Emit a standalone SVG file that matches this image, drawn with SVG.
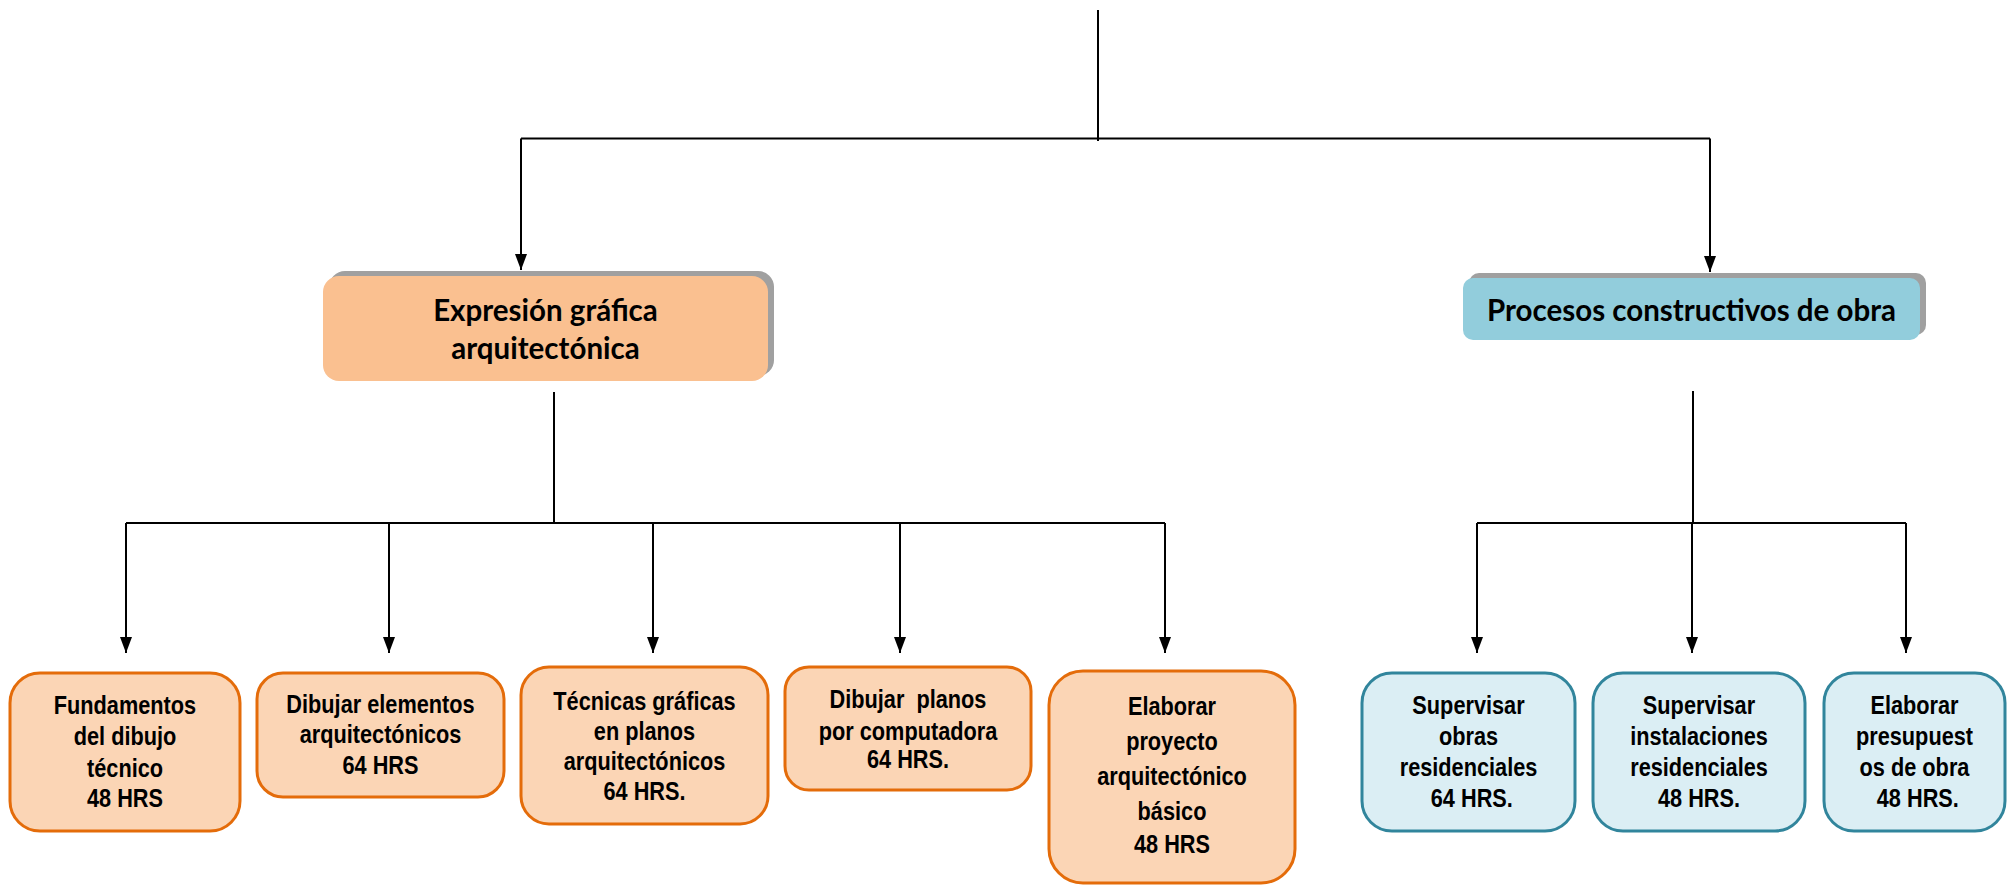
<svg xmlns="http://www.w3.org/2000/svg" width="2011" height="885" viewBox="0 0 2011 885">
<style>
.conn{stroke:#000;stroke-width:2;fill:none}
.arr{stroke:#000;stroke-width:2;fill:none;marker-end:url(#ah)}
.shadow{fill:#A0A0A0}
.t1{fill:#FAC090}
.t2{fill:#92CDDC}
.o{fill:#FBD5B5;stroke:#E46C0A;stroke-width:3}
.b{fill:#DBEEF4;stroke:#31859C;stroke-width:3}
.title{font-family:Lato,"Open Sans",sans-serif;font-weight:700;font-size:29.5px;fill:#000;text-anchor:middle}
.lbl{font-family:"Liberation Sans",Arial,sans-serif;font-weight:700;font-size:26.5px;fill:#000;text-anchor:middle}
</style>
<defs>
<marker id="ah" markerUnits="userSpaceOnUse" markerWidth="16" markerHeight="12" refX="16" refY="6" orient="auto">
<path d="M0,0 L16,6 L0,12 z" fill="#000"/>
</marker>
</defs>
<rect width="2011" height="885" fill="#fff"/>
<g id="connectors">
<path class="conn" d="M1098 10 V141"/>
<path class="conn" d="M521 138.5 H1710"/>
<path class="arr" d="M521 138.5 V270"/>
<path class="arr" d="M1710 138.5 V272"/>
<path class="conn" d="M554 392 V523"/>
<path class="conn" d="M126 523 H1165"/>
<path class="arr" d="M126 523 V653"/>
<path class="arr" d="M389 523 V653"/>
<path class="arr" d="M653 523 V653"/>
<path class="arr" d="M900 523 V653"/>
<path class="arr" d="M1165 523 V653"/>
<path class="conn" d="M1693 391 V523"/>
<path class="conn" d="M1477 523 H1906"/>
<path class="arr" d="M1477 523 V653"/>
<path class="arr" d="M1692 523 V653"/>
<path class="arr" d="M1906 523 V653"/>
</g>
<g id="expresion">
<rect class="shadow" x="329" y="271" width="445" height="105" rx="16"/>
<rect class="t1" x="323" y="276" width="445" height="105" rx="16"/>
<text class="title" x="545.5" y="321">Expresión gráfica</text>
<text class="title" x="545.5" y="359">arquitectónica</text>
</g>
<g id="procesos">
<rect class="shadow" x="1469" y="273" width="457" height="62" rx="10"/>
<rect class="t2" x="1463" y="278" width="457" height="62" rx="10"/>
<text class="title" x="1691.5" y="321">Procesos constructivos de obra</text>
</g>
<g id="fundamentos">
<rect class="o" x="10" y="673" width="230" height="158" rx="30"/>
<text class="lbl" transform="matrix(0.82 0 0 1 125 0)"><tspan x="0" y="714">Fundamentos</tspan><tspan x="0" y="745">del dibujo</tspan><tspan x="0" y="777">técnico</tspan><tspan x="0" y="807">48 HRS</tspan></text>
</g>
<g id="dibujar-elementos">
<rect class="o" x="257" y="673" width="247" height="124" rx="26"/>
<text class="lbl" transform="matrix(0.82 0 0 1 380.5 0)"><tspan x="0" y="713">Dibujar elementos</tspan><tspan x="0" y="743">arquitectónicos</tspan><tspan x="0" y="774">64 HRS</tspan></text>
</g>
<g id="tecnicas">
<rect class="o" x="521" y="667" width="247" height="157" rx="28"/>
<text class="lbl" transform="matrix(0.82 0 0 1 644.5 0)"><tspan x="0" y="710">Técnicas gráficas</tspan><tspan x="0" y="740">en planos</tspan><tspan x="0" y="770">arquitectónicos</tspan><tspan x="0" y="800">64 HRS.</tspan></text>
</g>
<g id="dibujar-planos">
<rect class="o" x="785" y="667" width="246" height="123" rx="24"/>
<text class="lbl" transform="matrix(0.82 0 0 1 908 0)"><tspan x="0" y="708" xml:space="preserve">Dibujar  planos</tspan><tspan x="0" y="740">por computadora</tspan><tspan x="0" y="768">64 HRS.</tspan></text>
</g>
<g id="elaborar-proyecto">
<rect class="o" x="1049" y="671" width="246" height="212" rx="34"/>
<text class="lbl" transform="matrix(0.82 0 0 1 1172 0)"><tspan x="0" y="715">Elaborar</tspan><tspan x="0" y="750">proyecto</tspan><tspan x="0" y="785">arquitectónico</tspan><tspan x="0" y="820">básico</tspan><tspan x="0" y="853">48 HRS</tspan></text>
</g>
<g id="supervisar-obras">
<rect class="b" x="1362" y="673" width="213" height="158" rx="30"/>
<text class="lbl" transform="matrix(0.82 0 0 1 1468.5 0)"><tspan x="0" y="714">Supervisar</tspan><tspan x="0" y="745">obras</tspan><tspan x="0" y="776">residenciales</tspan><tspan x="4" y="807">64 HRS.</tspan></text>
</g>
<g id="supervisar-instalaciones">
<rect class="b" x="1593" y="673" width="212" height="158" rx="30"/>
<text class="lbl" transform="matrix(0.82 0 0 1 1699 0)"><tspan x="0" y="714">Supervisar</tspan><tspan x="0" y="745">instalaciones</tspan><tspan x="0" y="776">residenciales</tspan><tspan x="0" y="807">48 HRS.</tspan></text>
</g>
<g id="elaborar-presupuestos">
<rect class="b" x="1824" y="673" width="181" height="158" rx="30"/>
<text class="lbl" transform="matrix(0.82 0 0 1 1914.5 0)"><tspan x="0" y="714">Elaborar</tspan><tspan x="0" y="745">presupuest</tspan><tspan x="0" y="776">os de obra</tspan><tspan x="4" y="807">48 HRS.</tspan></text>
</g>
</svg>
